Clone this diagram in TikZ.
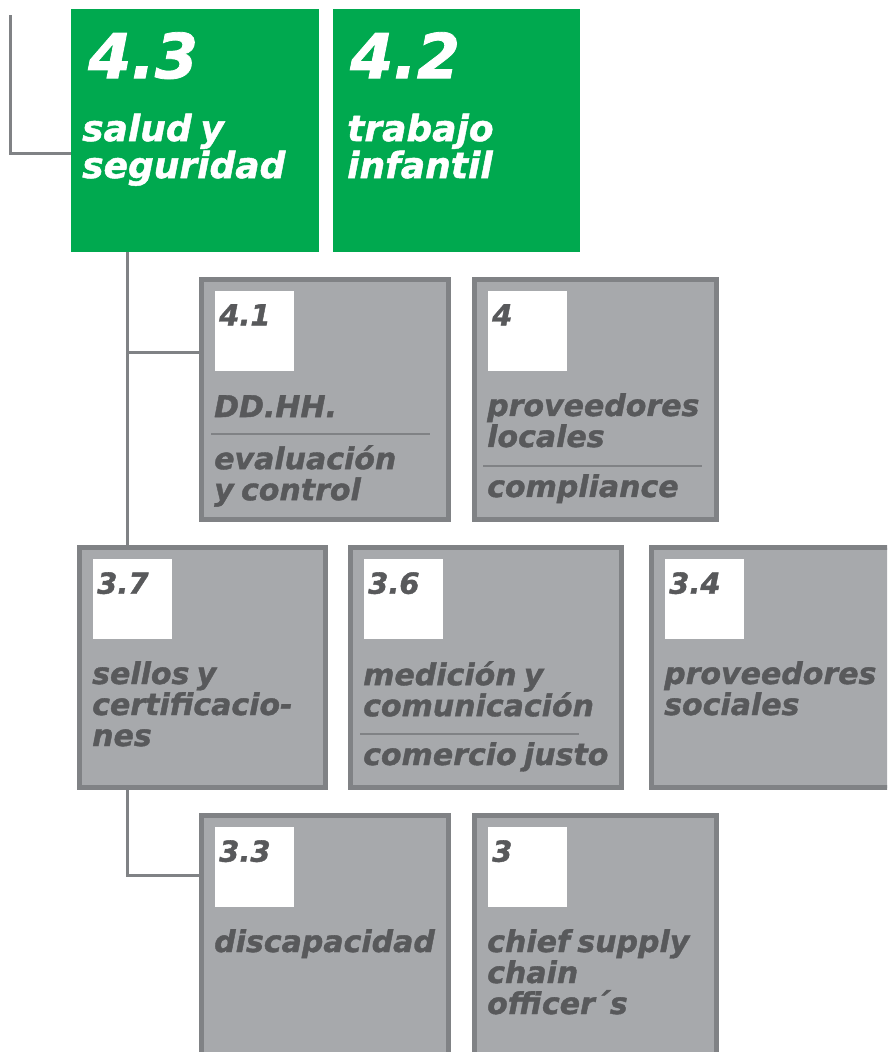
\documentclass[tikz,border=0pt]{standalone}
\usepackage{fontspec}
\usetikzlibrary{positioning}
\newfontfamily\boxfont[WordSpace=0.7, BoldItalicFeatures={FakeBold=1.3}]{DejaVu Sans}
\definecolor{sgreen}{HTML}{00A94F}
\definecolor{greyfill}{HTML}{A7A9AC}
\definecolor{greyline}{HTML}{808285}
\definecolor{greytext}{HTML}{58595B}
\begin{document}
\begin{tikzpicture}[x=1pt,y=-1pt,
	topbox/.style={fill=sgreen, anchor=north west, inner sep=0, outer sep=0, minimum height=243pt},
	subbox/.style={draw=greyline, line width=5pt, fill=greyfill, anchor=north west, inner sep=0, outer sep=0, minimum height=240pt},
	numsq/.style={fill=white, inner sep=0, minimum width=79pt, minimum height=80pt},
	numtxt/.style={text=greytext, inner sep=0, font=\boxfont\bfseries\itshape\fontsize{29}{29}\selectfont},
	bignum/.style={text=white, inner sep=0, font=\boxfont\bfseries\itshape\fontsize{62}{62}\selectfont},
	toptxt/.style={text=white, inner sep=0, align=left, font=\boxfont\bfseries\itshape\fontsize{36}{37}\selectfont},
	subtxt/.style={text=greytext, inner sep=0, align=left, font=\boxfont\bfseries\itshape\fontsize{30}{31}\selectfont},
	conn/.style={draw=greyline, line width=3pt},
	divider/.style={draw=greyline, line width=2pt}]
	\useasboundingbox (0,0) rectangle (887,1052);
	\clip (0,0) rectangle (887,1052);

	% green boxes on top
	\node (g43)	[topbox, minimum width=248pt] at (71,9) {};
	\node (g42)	[topbox, minimum width=247pt] at (333,9) {};
	\node (g43n)	[bignum, below right=23pt and 17pt of g43.north west] {4.3};
	\node (g43t)	[toptxt, below right=104.5pt and 11pt of g43.north west] {salud y\\seguridad};
	\node (g42n)	[bignum, below right=23pt and 17pt of g42.north west] {4.2};
	\node (g42t)	[toptxt, below right=104.5pt and 14pt of g42.north west] {trabajo\\infantil};

	% grey boxes, row by row
	\node (b41)	[subbox, minimum width=247pt] at (201.5,279.5) {};
	\node (b4)	[subbox, minimum width=242pt] at (474.5,279.5) {};
	\node (b37)	[subbox, minimum width=246pt] at (79.5,547.5) {};
	\node (b36)	[subbox, minimum width=271pt] at (350.5,547.5) {};
	\node (b34)	[subbox, minimum width=300pt] at (651.5,547.5) {};
	\node (b33)	[subbox, minimum width=247pt, minimum height=300pt] at (201.5,815.5) {};
	\node (b3)	[subbox, minimum width=242pt, minimum height=300pt] at (474.5,815.5) {};

	% white squares with the numbers
	\foreach \b/\n in {b41/4.1, b4/4, b37/3.7, b36/3.6, b34/3.4, b33/3.3, b3/3}{
		\node (\b sq)	[numsq, below right=11.5pt and 13.5pt of \b.north west] {};
		\node (\b no)	[numtxt, below right=13pt and 4pt of \b sq.north west] {\n};
	}

	% texts in the grey boxes
	\node (t41a)	[subtxt, below right=115.5pt and 12.5pt of b41.north west] {DD.HH.};
	\node (t41b)	[subtxt, below right=165.5pt and 12.5pt of b41.north west] {evaluación\\y control};
	\node (t4a)	[subtxt, below right=113.5pt and 12.5pt of b4.north west] {proveedores\\locales};
	\node (t4b)	[subtxt, below right=194.5pt and 12.5pt of b4.north west] {compliance};
	\node (t37)	[subtxt, below right=113.5pt and 12.5pt of b37.north west] {sellos y\\certificacio-\\nes};
	\node (t36a)	[subtxt, below right=113.5pt and 12.5pt of b36.north west] {medición y\\comunicación};
	\node (t36b)	[subtxt, below right=194.5pt and 12.5pt of b36.north west] {comercio justo};
	\node (t34)	[subtxt, below right=113.5pt and 12.5pt of b34.north west] {proveedores\\sociales};
	\node (t33)	[subtxt, below right=113.5pt and 12.5pt of b33.north west] {discapacidad};
	\node (t3)	[subtxt, below right=113.5pt and 12.5pt of b3.north west] {chief supply\\chain\\officer´s};

	% thin rules between two texts
	\draw[divider]	([xshift=9.5pt,yshift=-154.5pt]b41.north west) -- ++(219,0);
	\draw[divider]	([xshift=8.5pt,yshift=-186.5pt]b4.north west) -- ++(219,0);
	\draw[divider]	([xshift=9.5pt,yshift=-186.5pt]b36.north west) -- ++(219,0);

	% connectors
	\coordinate (start) at (10,15);
	\coordinate (trunk) at ([xshift=56pt]g43.south west);
	\coordinate (j41) at ([yshift=47.5pt]b41.west);
	\coordinate (trunk2) at ([xshift=47.5pt]b37.south west);
	\coordinate (j33) at ([yshift=90.5pt]b33.west);
	\draw[conn]	(start) |- ([yshift=-22.5pt]g43.west);
	\draw[conn]	(trunk) -- (trunk |- b37.north);
	\draw[conn]	(trunk |- j41) -- (j41);
	\draw[conn]	(trunk2) |- (j33);
\end{tikzpicture}
\end{document}
